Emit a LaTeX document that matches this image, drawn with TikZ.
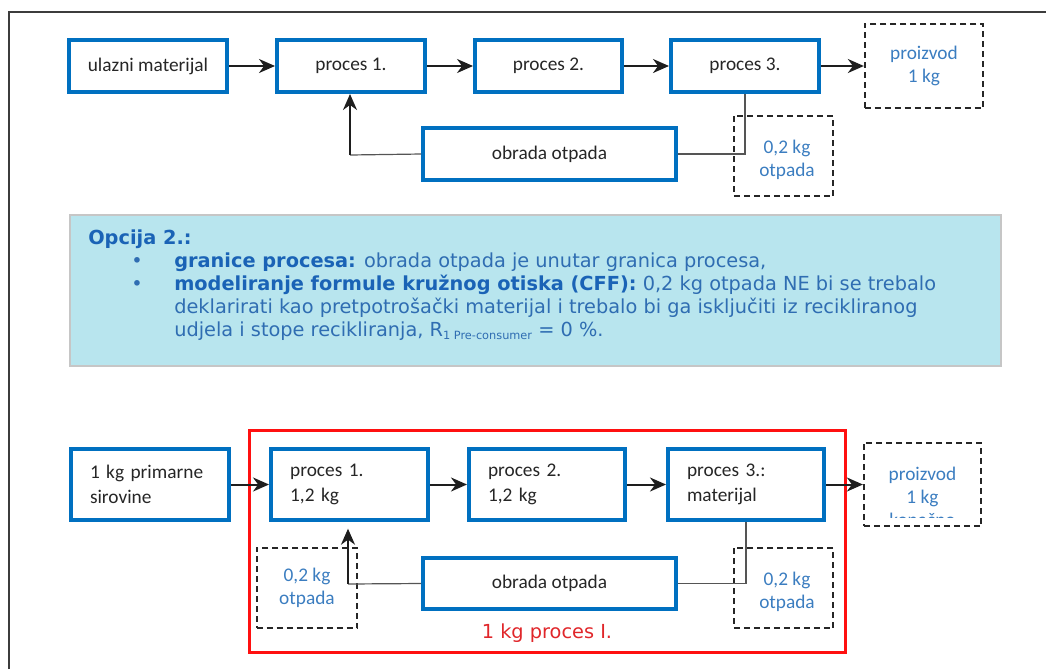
\documentclass[tikz,border=0pt]{standalone}
\usepackage{fontspec}
\setmainfont{Carlito}
\newfontfamily\notefont{DejaVu Sans}
\usetikzlibrary{arrows.meta}

\definecolor{procblue}{HTML}{0070C0}
\definecolor{inktext}{HTML}{262626}
\definecolor{wasteblue}{HTML}{3B7DC0}
\definecolor{noteblue}{HTML}{2F6DB2}
\definecolor{notebold}{HTML}{1A63B6}
\definecolor{notefill}{HTML}{B8E5EE}
\definecolor{noteedge}{HTML}{C6C6C6}
\definecolor{frameline}{HTML}{3C3C3C}
\definecolor{arrowink}{HTML}{1E1E1E}
\definecolor{linkgray}{HTML}{555555}
\definecolor{boundred}{HTML}{FF1010}
\definecolor{redtext}{HTML}{E0262A}

\tikzset{
  x=0.75pt, y=-0.75pt,
  procbox/.style={draw=procblue, line width=2.7pt, fill=white, text=inktext,
    font=\fontsize{14.5}{17.25}\selectfont, inner sep=0pt, align=center,
    minimum height=39.3pt},
  procleft/.style={procbox, align=left, minimum height=53.6pt,
    font=\fontsize{14.5}{18.75}\selectfont, inner xsep=14.4pt},
  wastebox/.style={draw=black!85, line width=1.3pt, dash pattern=on 4.5pt off 3pt,
    text=wasteblue, font=\fontsize{14.5}{17.25}\selectfont, align=center,
    inner sep=0pt},
  wastetext/.style={text=wasteblue, font=\fontsize{14.5}{17.25}\selectfont,
    align=center, inner sep=0pt},
  flow/.style={draw=arrowink, line width=1.5pt,
    -{Stealth[length=12pt, width=10.5pt, inset=3.8pt]}},
  link/.style={draw=linkgray, line width=0.9pt},
  noteline/.style={anchor=base west, inner sep=0pt, text=noteblue,
    font=\notefont\fontsize{14.5}{17}\selectfont},
}

\begin{document}
\begin{tikzpicture}
\useasboundingbox (0,0) rectangle (1046,669);

% page frame
\draw[frameline, line width=1.2pt] (9,669) -- (9,12) -- (1046,12);

% ---------- upper flow ----------
\node[procbox, minimum width=118.8pt] (ul) at (148,66) {ulazni materijal};
\node[procbox, minimum width=111.3pt] (p1) at (351,66) {proces 1.};
\node[procbox, minimum width=110.5pt] (p2) at (548.5,66) {proces 2.};
\node[procbox, minimum width=111.3pt] (p3) at (745,66) {proces 3.};
\node[wastebox, minimum width=88.9pt, minimum height=63.4pt] (prod) at (924,66) {proizvod\\1 kg};
\node[procbox, minimum width=190pt] (obr) at (549.5,154) {obrada otpada};
\node[wastebox, minimum width=74.6pt, minimum height=60.4pt] (wtop) at (783.5,156) {};
\node[wastetext] (wtoptxt) at (787,160) {0,2 kg\\otpada};

\draw[flow] (ul.east) -- (p1.west);
\draw[flow] (p1.east) -- (p2.west);
\draw[flow] (p2.east) -- (p3.west);
\draw[flow] (p3.east) -- (prod.west);

\coordinate (fbtop) at (350,155);
\draw[link] (obr.west) -- (fbtop);
\draw[flow] (fbtop) -- (fbtop |- p1.south);
\draw[link] (p3.south) |- (obr.east);

% ---------- explanation panel ----------
\draw[fill=notefill, draw=noteedge, line width=1.1pt] (70,215) rectangle (1001,366);
\node[noteline, text=notebold, font=\notefont\bfseries\fontsize{14.5}{17}\selectfont] (ntitle) at (88,244) {Opcija 2.:};
\node[noteline, anchor=base] (nb1) at (137,267) {•};
\node[noteline, anchor=base] (nb2) at (137,290) {•};
\node[noteline] (nl1) at (174,267) {\textcolor{notebold}{\bfseries granice procesa:} obrada otpada je unutar granica procesa,};
\node[noteline] (nl2) at (174,290) {\textcolor{notebold}{\bfseries modeliranje formule kružnog otiska (CFF):} 0,2 kg otpada NE bi se trebalo};
\node[noteline] (nl3) at (174,313) {deklarirati kao pretpotrošački materijal i trebalo bi ga isključiti iz recikliranog};
\node[noteline] (nl4) at (174,336) {udjela i stope recikliranja, R\raisebox{-0.3ex}{\fontsize{8.5}{9}\selectfont 1 Pre-consumer} = 0 \%.};

% ---------- lower flow ----------
\draw[boundred, line width=2.2pt] (249.5,430.5) rectangle (845.5,652.5);
\node[text=redtext, font=\notefont\fontsize{14.5}{17}\selectfont, inner sep=0pt] (bound) at (547,633) {1 kg proces I.};

\node[procleft, minimum width=118.8pt, text width=90pt] (prim) at (150,484.5) {1 kg primarne\\sirovine};
\node[procleft, minimum width=118pt, text width=89pt] (bp1) at (349.5,484.5) {proces 1.\\1,2 kg};
\node[procleft, minimum width=117.3pt, text width=88.5pt] (bp2) at (547,484.5) {proces 2.\\1,2 kg};
\node[procleft, minimum width=117.3pt, text width=88.5pt] (bp3) at (746,484.5) {proces 3.:\\materijal};
\node[wastebox, minimum width=88.1pt, minimum height=62.6pt] (bprod) at (922.5,484.5) {};
\begin{scope}
  \clip (866,445) rectangle (979,517);
  \node[wastetext] (bprodtxt) at (922.5,497) {proizvod\\1 kg\\konačno};
\end{scope}
\node[procbox, minimum width=190pt, minimum height=38.6pt] (bob) at (549.5,583.5) {obrada otpada};
\node[wastebox, minimum width=75.4pt, minimum height=60.4pt] (bw1) at (307,588) {0,2 kg\\otpada};
\node[wastebox, minimum width=74.6pt, minimum height=60.4pt] (bw2) at (783.5,588) {};
\node[wastetext] (bw2txt) at (787,592) {0,2 kg\\otpada};

\draw[flow] (prim.east) -- (bp1.west);
\draw[flow] (bp1.east) -- (bp2.west);
\draw[flow] (bp2.east) -- (bp3.west);
\draw[flow] (bp3.east) -- (bprod.west);

\coordinate (fbbot) at (348,584);
\draw[link] (bob.west) -- (fbbot);
\draw[flow, shorten >=5pt] (fbbot) -- (fbbot |- bp1.south);
\draw[link] (bp3.south) |- (bob.east);
\end{tikzpicture}
\end{document}
